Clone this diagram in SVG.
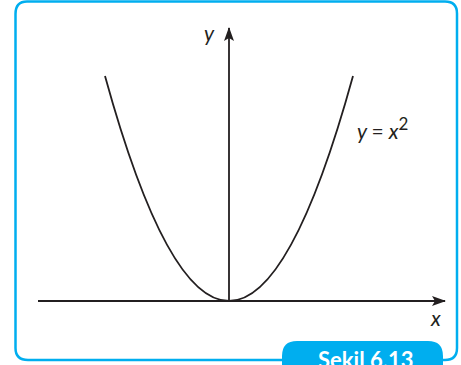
<svg xmlns="http://www.w3.org/2000/svg" width="461" height="365" viewBox="0 0 461 365">
<style>
.frame{fill:none;stroke:#00aeef;stroke-width:2.5}
.axis{fill:none;stroke:#231f20;stroke-width:1.8}
.curve{fill:none;stroke:#231f20;stroke-width:1.8}
.lbl{font-family:"Lato","Open Sans",sans-serif;font-style:italic;font-size:21px;fill:#231f20}
.tab{font-family:"Lato","Open Sans",sans-serif;font-weight:bold;font-size:22px;fill:#ffffff}
</style>
<defs>
<marker id="arr" viewBox="0 0 14 10" refX="13" refY="5" markerWidth="14" markerHeight="10" markerUnits="userSpaceOnUse" orient="auto">
<path d="M0,0 L14,5 L0,10 L3,5 Z" fill="#231f20"/>
</marker>
</defs>
<rect width="461" height="365" fill="#ffffff"/>
<g id="frame">
<path class="frame" d="M27,1.5 H445 Q457,1.5 457,13.5 V348 Q457,360 445,360 H300 M282,360 H28 Q15.5,360 15.5,348 V14 Q15.5,1.5 27,1.5"/>
</g>
<g id="tab">
<path d="M282,368 V356 Q282,341 297,341 H428 Q443,341 443,356 V368 Z" fill="#00aeef"/>
<text class="tab" x="318" y="368">Şekil 6.13</text>
</g>
<g id="connectors">
<line class="axis" x1="38" y1="301" x2="445" y2="301" marker-end="url(#arr)"/>
<line class="axis" x1="229" y1="301" x2="229" y2="28" marker-end="url(#arr)"/>
</g>
<g id="curve">
<path class="curve" d="M105,76 Q229,526 353,76"/>
</g>
<g id="labels">
<text class="lbl" x="204" y="41">y</text>
<text class="lbl" x="431" y="326">x</text>
<text class="lbl" x="357" y="139" xml:space="preserve">y <tspan font-style="normal">=</tspan> x<tspan font-size="17" dy="-9" font-style="normal">2</tspan></text>
</g>
</svg>
